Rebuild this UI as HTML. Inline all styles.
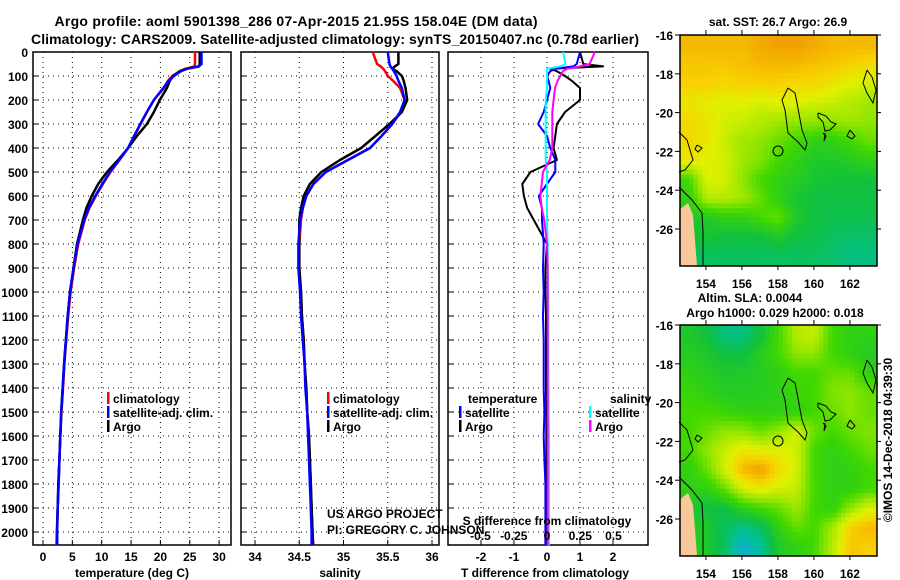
<!DOCTYPE html>
<html><head><meta charset="utf-8"><style>
body{margin:0;background:#fff;}
svg{display:block;font-family:"Liberation Sans",sans-serif;}
.b{font-weight:bold;font-size:12px;}
.t{font-weight:bold;font-size:14px;}
</style></head><body>
<svg id="c" width="900" height="580" viewBox="0 0 900 580">
<text class="t" x="296" y="26" text-anchor="middle" textLength="483">Argo profile: aoml 5901398_286 07-Apr-2015 21.95S 158.04E (DM data)</text>
<text class="t" x="335" y="44" text-anchor="middle" textLength="608">Climatology: CARS2009. Satellite-adjusted climatology: synTS_20150407.nc (0.78d earlier)</text>
</svg>
<script>
const depths=[0,50,60,70,80,100,120,150,200,250,300,350,400,450,500,550,600,650,700,800,900,1000,1100,1200,1300,1400,1500,1600,1700,1800,1900,2000,2055];
const tempClim=[25.9,25.9,25.8,24.2,23.3,22.0,21.3,20.6,18.9,17.7,16.6,15.6,14.5,13.0,11.5,10.2,9.0,7.9,7.1,6.0,5.3,4.7,4.3,3.95,3.65,3.4,3.15,2.95,2.8,2.65,2.5,2.35,2.3];
const tempSat=[27.0,27.0,26.5,24.5,23.5,22.3,21.4,20.5,18.9,17.7,16.6,15.5,14.5,13.0,11.4,10.1,8.9,7.8,7.0,5.9,5.2,4.6,4.2,3.9,3.6,3.35,3.1,2.95,2.8,2.65,2.5,2.4,2.4];
const tempArgo=[26.7,26.7,26.6,24.5,23.3,22.2,21.6,21.1,19.9,18.9,17.7,16.0,14.5,12.8,10.9,9.4,8.3,7.4,6.8,5.8,5.2,4.6,4.2,3.9,3.6,3.35,3.1,2.95,2.8,2.6,2.5,2.4,2.4];
const salClim=[35.33,35.38,35.42,35.45,35.47,35.5,35.56,35.64,35.69,35.65,35.55,35.43,35.3,35.05,34.8,34.66,34.58,34.54,34.52,34.5,34.5,34.52,34.53,34.55,34.56,34.58,34.59,34.61,34.62,34.63,34.64,34.65,34.66];
const salSat=[35.5,35.52,35.53,35.55,35.57,35.6,35.62,35.66,35.69,35.64,35.55,35.43,35.3,35.05,34.8,34.66,34.58,34.54,34.51,34.49,34.49,34.51,34.52,34.54,34.56,34.57,34.59,34.6,34.61,34.62,34.63,34.64,34.64];
const salArgo=[35.62,35.62,35.58,35.55,35.6,35.66,35.68,35.7,35.72,35.66,35.52,35.36,35.2,34.96,34.75,34.62,34.55,34.52,34.5,34.5,34.5,34.52,34.53,34.55,34.56,34.58,34.59,34.61,34.62,34.63,34.64,34.65,34.65];
const dTsat=[1.0,0.9,0.8,0.25,0.1,0.0,0.05,0.1,0.0,-0.1,-0.27,0.0,0.1,0.25,0.25,0.0,-0.25,-0.15,-0.15,-0.1,-0.12,-0.1,-0.12,-0.1,-0.1,-0.1,-0.08,-0.1,-0.08,-0.05,-0.05,-0.05,-0.05];
const dTargo=[1.0,1.1,1.7,0.1,0.3,0.55,0.75,1.0,1.0,0.55,0.3,0.25,0.2,0.3,-0.5,-0.75,-0.7,-0.6,-0.4,0.0,-0.05,-0.05,-0.03,-0.03,-0.03,-0.03,-0.02,-0.02,-0.02,-0.02,-0.03,-0.03,-0.03];
const dSsat=[0.12,0.14,0.1,0.0,0.0,0.0,0.0,0.0,-0.01,-0.01,-0.01,-0.01,-0.01,-0.01,0.0,0.0,0.0,0.0,0.0,0.005,0.005,0.01,0.01,0.01,0.01,0.012,0.012,0.015,0.015,0.015,0.015,0.015,0.015];
const dSargo=[0.36,0.32,0.25,0.15,0.12,0.1,0.08,0.06,0.05,0.04,0.04,0.04,0.04,0.02,-0.03,-0.04,-0.05,-0.04,-0.02,0.0,0.005,0.005,0.005,0.005,0.005,0.005,0.005,0.005,0.005,0.005,0.005,0.005,0.005];
const depthTicks=[0,100,200,300,400,500,600,700,800,900,1000,1100,1200,1300,1400,1500,1600,1700,1800,1900,2000];
const tempTicks=[0,5,10,15,20,25,30];
const salTicks=[34,34.5,35,35.5,36];
const salTickLabels=["34","34.5","35","35.5","36"];
const dTTicks=[-2,-1,0,1,2];
const dSTicks=[-0.5,-0.25,0,0.25,0.5];
const dSTickLabels=["-0.5","-0.25","0","0.25","0.5"];
const lonTicks=[154,156,158,160,162];
const latTicks=[-16,-18,-20,-22,-24,-26];
const sstGrid=[
[.85,.85,.85,.85,.88,.9,.9,.88,.85,.85,.85],
[.82,.82,.82,.83,.85,.85,.85,.83,.82,.8,.78],
[.8,.8,.78,.8,.8,.8,.78,.78,.75,.72,.7],
[.75,.73,.72,.72,.7,.72,.72,.7,.68,.65,.62],
[.78,.75,.7,.68,.65,.62,.6,.6,.6,.62,.6],
[.78,.75,.68,.62,.6,.55,.5,.45,.45,.5,.55],
[.75,.72,.7,.62,.58,.5,.45,.4,.4,.42,.45],
[.5,.72,.7,.6,.5,.45,.42,.38,.36,.36,.36],
[.45,.65,.65,.62,.55,.45,.38,.35,.35,.35,.35],
[.4,.4,.45,.45,.5,.55,.4,.35,.33,.33,.33],
[.35,.38,.35,.35,.35,.4,.35,.33,.3,.28,.28],
[.3,.3,.3,.3,.3,.3,.3,.3,.28,.25,.25]];
const slaGrid=[
[.4,.35,.25,.25,.35,.5,.65,.68,.5,.45,.45],
[.42,.4,.35,.35,.42,.5,.6,.6,.5,.45,.42],
[.45,.42,.4,.4,.42,.45,.5,.5,.55,.55,.45],
[.48,.45,.42,.42,.42,.45,.48,.5,.58,.6,.55],
[.5,.5,.48,.45,.45,.45,.45,.5,.55,.6,.55],
[.5,.55,.6,.6,.55,.6,.7,.55,.5,.55,.58],
[.5,.6,.68,.75,.72,.72,.7,.5,.45,.5,.55],
[.45,.55,.7,.85,.9,.78,.7,.5,.45,.45,.5],
[.45,.45,.55,.7,.75,.7,.68,.5,.45,.45,.5],
[.4,.35,.35,.45,.5,.55,.62,.5,.45,.6,.7],
[.42,.4,.3,.25,.3,.45,.55,.5,.62,.8,.85],
[.45,.4,.3,.1,.2,.4,.45,.5,.65,.82,.8]];

const NS='http://www.w3.org/2000/svg';
const svg=document.getElementById('c');
function mk(tag,at,parent){const e=document.createElementNS(NS,tag);for(const k in at)e.setAttribute(k,at[k]);(parent||svg).appendChild(e);return e;}
const Y0=52,PX=0.24,BOT=545;
const yD=d=>Y0+d*PX;
function txt(x,y,s,anchor,cls,name){const e=mk('text',{x:x,y:y,'text-anchor':anchor||'middle',class:cls||'b'});e.textContent=s;

return e;}

function panel(x0,x1,xf,xticks,xlabels,name,depthLabels){
  const g=mk('g',{});
  
  
  depthTicks.forEach((d,i)=>{const y=yD(d);
    mk('line',{x1:x0,x2:x1,y1:y,y2:y,stroke:'#000','stroke-dasharray':'1 4','stroke-width':1},g);
    mk('line',{x1:x0,x2:x0+5,y1:y,y2:y,stroke:'#000'},g);
    if(depthLabels){txt(28,y+5,String(d),'end','b','depth-tick-label');}
  });
  xticks.forEach((v,i)=>{const x=xf(v);
    mk('line',{x1:x,x2:x,y1:Y0,y2:BOT,stroke:'#000','stroke-dasharray':'1 4'},g);
    mk('line',{x1:x,x2:x,y1:BOT,y2:BOT-5,stroke:'#000'},g);
    if(xlabels)txt(x,561,xlabels[i],'middle','b','x-tick-label');
  });
  mk('rect',{x:x0,y:Y0,width:x1-x0,height:BOT-Y0,fill:'none',stroke:'#000','stroke-width':1.5},g);
}
function line(vals,xf,color,name,w){
  const pts=vals.map((v,i)=>xf(v).toFixed(1)+','+yD(depths[i]).toFixed(1)).join(' ');
  const p=mk('polyline',{points:pts,fill:'none',stroke:color,'stroke-width':w||2.5,'stroke-linejoin':'round'});
  
  
}
const xT=v=>43+v*5.87;
panel(33,231,xT,tempTicks,tempTicks.map(String),'temperature-panel',true);
line(tempClim,xT,'#ff0000','temp-climatology-line');
line(tempArgo,xT,'#000000','temp-argo-line');
line(tempSat,xT,'#0000ff','temp-satellite-line');
txt(132,577,'temperature (deg C)','middle','b','x-axis-title-temperature');
const xS=v=>255+(v-34)*88.5;
panel(241,439,xS,salTicks,salTickLabels,'salinity-panel',false);
line(salClim,xS,'#ff0000','sal-climatology-line');
line(salArgo,xS,'#000000','sal-argo-line');
line(salSat,xS,'#0000ff','sal-satellite-line');
txt(340,577,'salinity','middle','b','x-axis-title-salinity');
const xDT=v=>547+v*33, xDS=v=>547+v*133;
panel(448,648,xDT,dTTicks,dTTicks.map(String),'difference-panel',false);
line(dTargo,xDT,'#000000','dT-argo-line',2);
line(dTsat,xDT,'#0000ff','dT-satellite-line',2);
line(dSsat,xDS,'#00ffff','dS-satellite-line',2);
line(dSargo,xDS,'#ff00ff','dS-argo-line',2);
txt(545,577,'T difference from climatology','middle','b','x-axis-title-dT');
txt(547,525,'S difference from climatology','middle','b','x-axis-title-dS');
dSTicks.forEach((v,i)=>txt(xDS(v),540,dSTickLabels[i],'middle','b','dS-tick-label'));

function leg(x,y,color,label,name){
  const r=mk('rect',{x:x,y:y-11,width:2.5,height:12,fill:color});
  
  
  txt(x+6,y,label,'start','b',name);
}
leg(107,403,'#ff0000','climatology','legend-climatology');
leg(107,417,'#0000ff','satellite-adj. clim.','legend-satellite-adj');
leg(107,431,'#000','Argo','legend-argo');
leg(327,403,'#ff0000','climatology','legend2-climatology');
leg(327,417,'#0000ff','satellite-adj. clim.','legend2-satellite-adj');
leg(327,431,'#000','Argo','legend2-argo');
txt(468,403,'temperature','start','b','legend3-temperature-header');
leg(459,417,'#0000ff','satellite','legend3-t-satellite');
leg(459,431,'#000','Argo','legend3-t-argo');
txt(610,403,'salinity','start','b','legend3-salinity-header');
leg(589,417,'#00ffff','satellite','legend3-s-satellite');
leg(589,431,'#ff00ff','Argo','legend3-s-argo');
const c1=txt(327,518,'US ARGO PROJECT','start','','credit-project');c1.setAttribute('font-size','12');
const c2=txt(327,534,'PI: GREGORY C. JOHNSON','start','','credit-pi');c2.setAttribute('font-size','12');

const stops=[[0,[32,160,240]],[0.2,[0,192,160]],[0.35,[16,192,64]],[0.5,[64,216,0]],[0.62,[160,232,0]],[0.72,[224,240,0]],[0.8,[248,208,0]],[0.9,[240,160,0]],[1,[224,112,0]]];
function cmap(v){for(let i=1;i<stops.length;i++){if(v<=stops[i][0]){const a=stops[i-1],b=stops[i],t=(v-a[0])/(b[0]-a[0]);return 'rgb('+a[1].map((c,k)=>Math.round(c+(b[1][k]-c)*t)).join(',')+')';}}return 'rgb(224,112,0)';}
const MX0=680,MX1=877,MH=231;
const xL=lon=>MX0+(lon-152.56)*18.0;
function sample(grid,fr,fc){const nr=grid.length,nc=grid[0].length;
  fr=Math.max(0,Math.min(nr-1,fr));fc=Math.max(0,Math.min(nc-1,fc));
  const r0=Math.floor(fr),c0=Math.floor(fc),r1=Math.min(nr-1,r0+1),c1=Math.min(nc-1,c0+1),tr=fr-r0,tc=fc-c0;
  return (grid[r0][c0]*(1-tc)+grid[r0][c1]*tc)*(1-tr)+(grid[r1][c0]*(1-tc)+grid[r1][c1]*tc)*tr;}
function drawMap(top,grid,name){
  const g=mk('g',{});
  
  
  const nr=grid.length,nc=grid[0].length,S=4,cw=(MX1-MX0)/(nc*S),ch=MH/(nr*S);
  for(let r=0;r<nr*S;r++)for(let c=0;c<nc*S;c++){
    const v=sample(grid,(r+0.5)/S-0.5,(c+0.5)/S-0.5);
    const cell=mk('rect',{x:MX0+c*cw,y:top+r*ch,width:cw+0.4,height:ch+0.4,fill:cmap(v)},g);
    
    
  }
  const o=top-35;
  const P=a=>a.map(p=>p[0]+','+(p[1]+o)).join(' ');
  mk('polygon',{points:P([[679,210],[688,203],[693,215],[695,240],[697,266],[679,266]]),fill:'#f8c898'},g);
  const coasts=[
   [[788,88],[795,93],[797,103],[802,130],[807,143],[805,150],[798,142],[788,133],[785,110],[782,100],[788,88]],
   [[818,113],[826,116],[831,122],[836,124],[830,130],[825,131],[823,122],[818,117],[818,113]],
   [[867,70],[872,77],[876,90],[873,103],[867,93],[863,83],[867,70]],
   [[850,130],[855,136],[852,139],[847,136],[850,130]],
   [[679,132],[687,140],[693,160],[685,170],[679,172]],
   [[679,187],[692,200],[702,213],[703,233],[703,266]],
   [[697,145],[702,148],[698,152],[695,149],[697,145]],
   [[823,133],[826,136],[824,141],[825,133]]];
  coasts.forEach(cs=>mk('polyline',{points:P(cs),fill:'none',stroke:'#000','stroke-width':1},g));
  mk('circle',{cx:778,cy:151+o,r:5,fill:'none',stroke:'#000'},g);
  mk('rect',{x:MX0,y:top,width:MX1-MX0,height:MH,fill:'none',stroke:'#000','stroke-width':1.5},g);
  lonTicks.forEach(l=>{const x=xL(l);mk('line',{x1:x,x2:x,y1:top,y2:top-5,stroke:'#000'},g);mk('line',{x1:x,x2:x,y1:top+MH,y2:top+MH+4,stroke:'#000'},g);
    txt(x,top+MH+22,String(l),'middle','b','map-lon-label');});
  latTicks.forEach(la=>{const y=top+(-16-la)*19.4;mk('line',{x1:MX0-5,x2:MX0,y1:y,y2:y,stroke:'#000'},g);mk('line',{x1:MX1,x2:MX1+4,y1:y,y2:y,stroke:'#000'},g);
    txt(673,y+5,String(la),'end','b','map-lat-label');});
}
drawMap(35,sstGrid,'sst-map');
drawMap(325,slaGrid,'sla-map');
txt(778,26,'sat. SST: 26.7 Argo: 26.9','middle','b','sst-map-title');
txt(750,302,'Altim. SLA: 0.0044','middle','b','sla-map-title');
txt(775,317,'Argo h1000: 0.029 h2000: 0.018','middle','b','sla-map-subtitle');
const cr=txt(0,0,'©IMOS 14-Dec-2018 04:39:30','middle','','imos-timestamp');
cr.setAttribute('font-size','12');
cr.setAttribute('transform','translate(892,440) rotate(-90)');
</script>
</body></html>
